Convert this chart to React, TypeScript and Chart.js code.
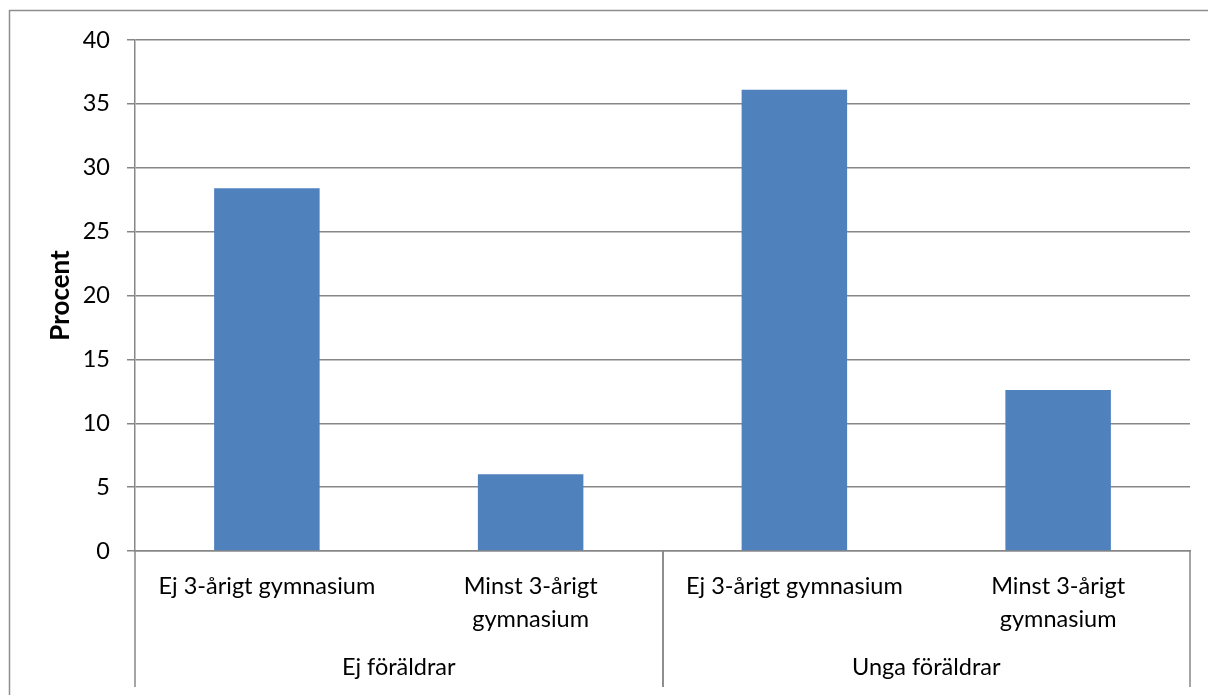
import React, { useEffect, useRef } from "react";
import { Chart, registerables } from "chart.js";

Chart.register(...registerables);

const groups = ["Ej föräldrar", "Unga föräldrar"];
const subcategories: string[][] = [
  ["Ej 3-årigt gymnasium"],
  ["Minst 3-årigt", "gymnasium"],
  ["Ej 3-årigt gymnasium"],
  ["Minst 3-årigt", "gymnasium"],
];
const groupOfCategory = [0, 0, 1, 1];
const values = [28.4, 6.0, 36.1, 12.6];
const yMin = 0;
const yMax = 40;
const yStep = 5;
const yTitle = "Procent";

const FONT = "Lato, 'Open Sans', sans-serif";
const FONT_SIZE = 23.5;
const BAR_COLOR = "#4F81BD";
const LINE_COLOR = "#878787";
const BORDER_COLOR = "#8e8e8e";
const LINE_W = 1.5;

const decorPlugin = {
  id: "decor",
  afterDraw(chart: any) {
    const ctx = chart.ctx as CanvasRenderingContext2D;
    const xs = chart.scales.x;
    const area = chart.chartArea;
    ctx.save();
    // outer frame (cropped on right/bottom)
    ctx.strokeStyle = BORDER_COLOR;
    ctx.lineWidth = 1.5;
    ctx.strokeRect(9.5, 10.5, chart.width + 40, chart.height + 40);

    const half = (xs.getPixelForValue(1) - xs.getPixelForValue(0)) / 2;
    const lineBottom = 687;
    ctx.strokeStyle = LINE_COLOR;
    ctx.lineWidth = LINE_W;
    ctx.fillStyle = "#000";
    ctx.font = `${FONT_SIZE}px ${FONT}`;
    ctx.textAlign = "center";
    ctx.textBaseline = "middle";
    groups.forEach((g, gi) => {
      const idx = groupOfCategory
        .map((v, i) => (v === gi ? i : -1))
        .filter((i) => i >= 0);
      const left = xs.getPixelForValue(idx[0]) - half;
      const right = xs.getPixelForValue(idx[idx.length - 1]) + half;
      [left, right].forEach((px) => {
        const ax = Math.round(px);
        ctx.beginPath();
        ctx.moveTo(ax, area.bottom);
        ctx.lineTo(ax, lineBottom);
        ctx.stroke();
      });
      ctx.fillText(g, (left + right) / 2, 667);
    });
    ctx.restore();
  },
};

export default function App() {
  const ref = useRef<HTMLCanvasElement | null>(null);

  useEffect(() => {
    if (!ref.current) return;
    const chart = new Chart(ref.current, {
      type: "bar",
      data: {
        labels: subcategories,
        datasets: [
          {
            data: values,
            backgroundColor: BAR_COLOR,
            borderWidth: 0,
            barPercentage: 0.4,
            categoryPercentage: 1,
          },
        ],
      },
      options: {
        responsive: false,
        animation: false,
        layout: { padding: { top: 40, right: 18, bottom: 0, left: 0 } },
        plugins: {
          legend: { display: false },
          tooltip: { enabled: false },
        },
        scales: {
          x: {
            grid: { display: false, drawTicks: false },
            border: { display: true, color: LINE_COLOR, width: LINE_W },
            ticks: {
              color: "#000",
              font: { family: FONT, size: FONT_SIZE, lineHeight: 1.4 },
              padding: 19,
              maxRotation: 0,
              autoSkip: false,
            },
            afterFit(scale: any) {
              scale.height = 144;
            },
          },
          y: {
            min: yMin,
            max: yMax,
            ticks: {
              stepSize: yStep,
              color: "#000",
              font: { family: FONT, size: FONT_SIZE },
              padding: 17,
            },
            grid: { color: LINE_COLOR, lineWidth: LINE_W, tickLength: 8, drawTicks: true },
            border: { display: true, color: LINE_COLOR, width: LINE_W },
            title: {
              display: true,
              text: yTitle,
              color: "#000",
              font: { family: FONT, size: 26, weight: "bold", lineHeight: 1.2 },
              padding: { top: 45, bottom: 0 },
            },
            afterFit(scale: any) {
              scale.width = 135;
            },
          },
        },
      },
      plugins: [decorPlugin],
    });
    return () => chart.destroy();
  }, []);

  return (
    <div style={{ position: "fixed", left: 0, top: 0, width: 1208, height: 695, background: "#fff" }}>
      <canvas ref={ref} width={1208} height={695} style={{ display: "block" }} />
    </div>
  );
}
